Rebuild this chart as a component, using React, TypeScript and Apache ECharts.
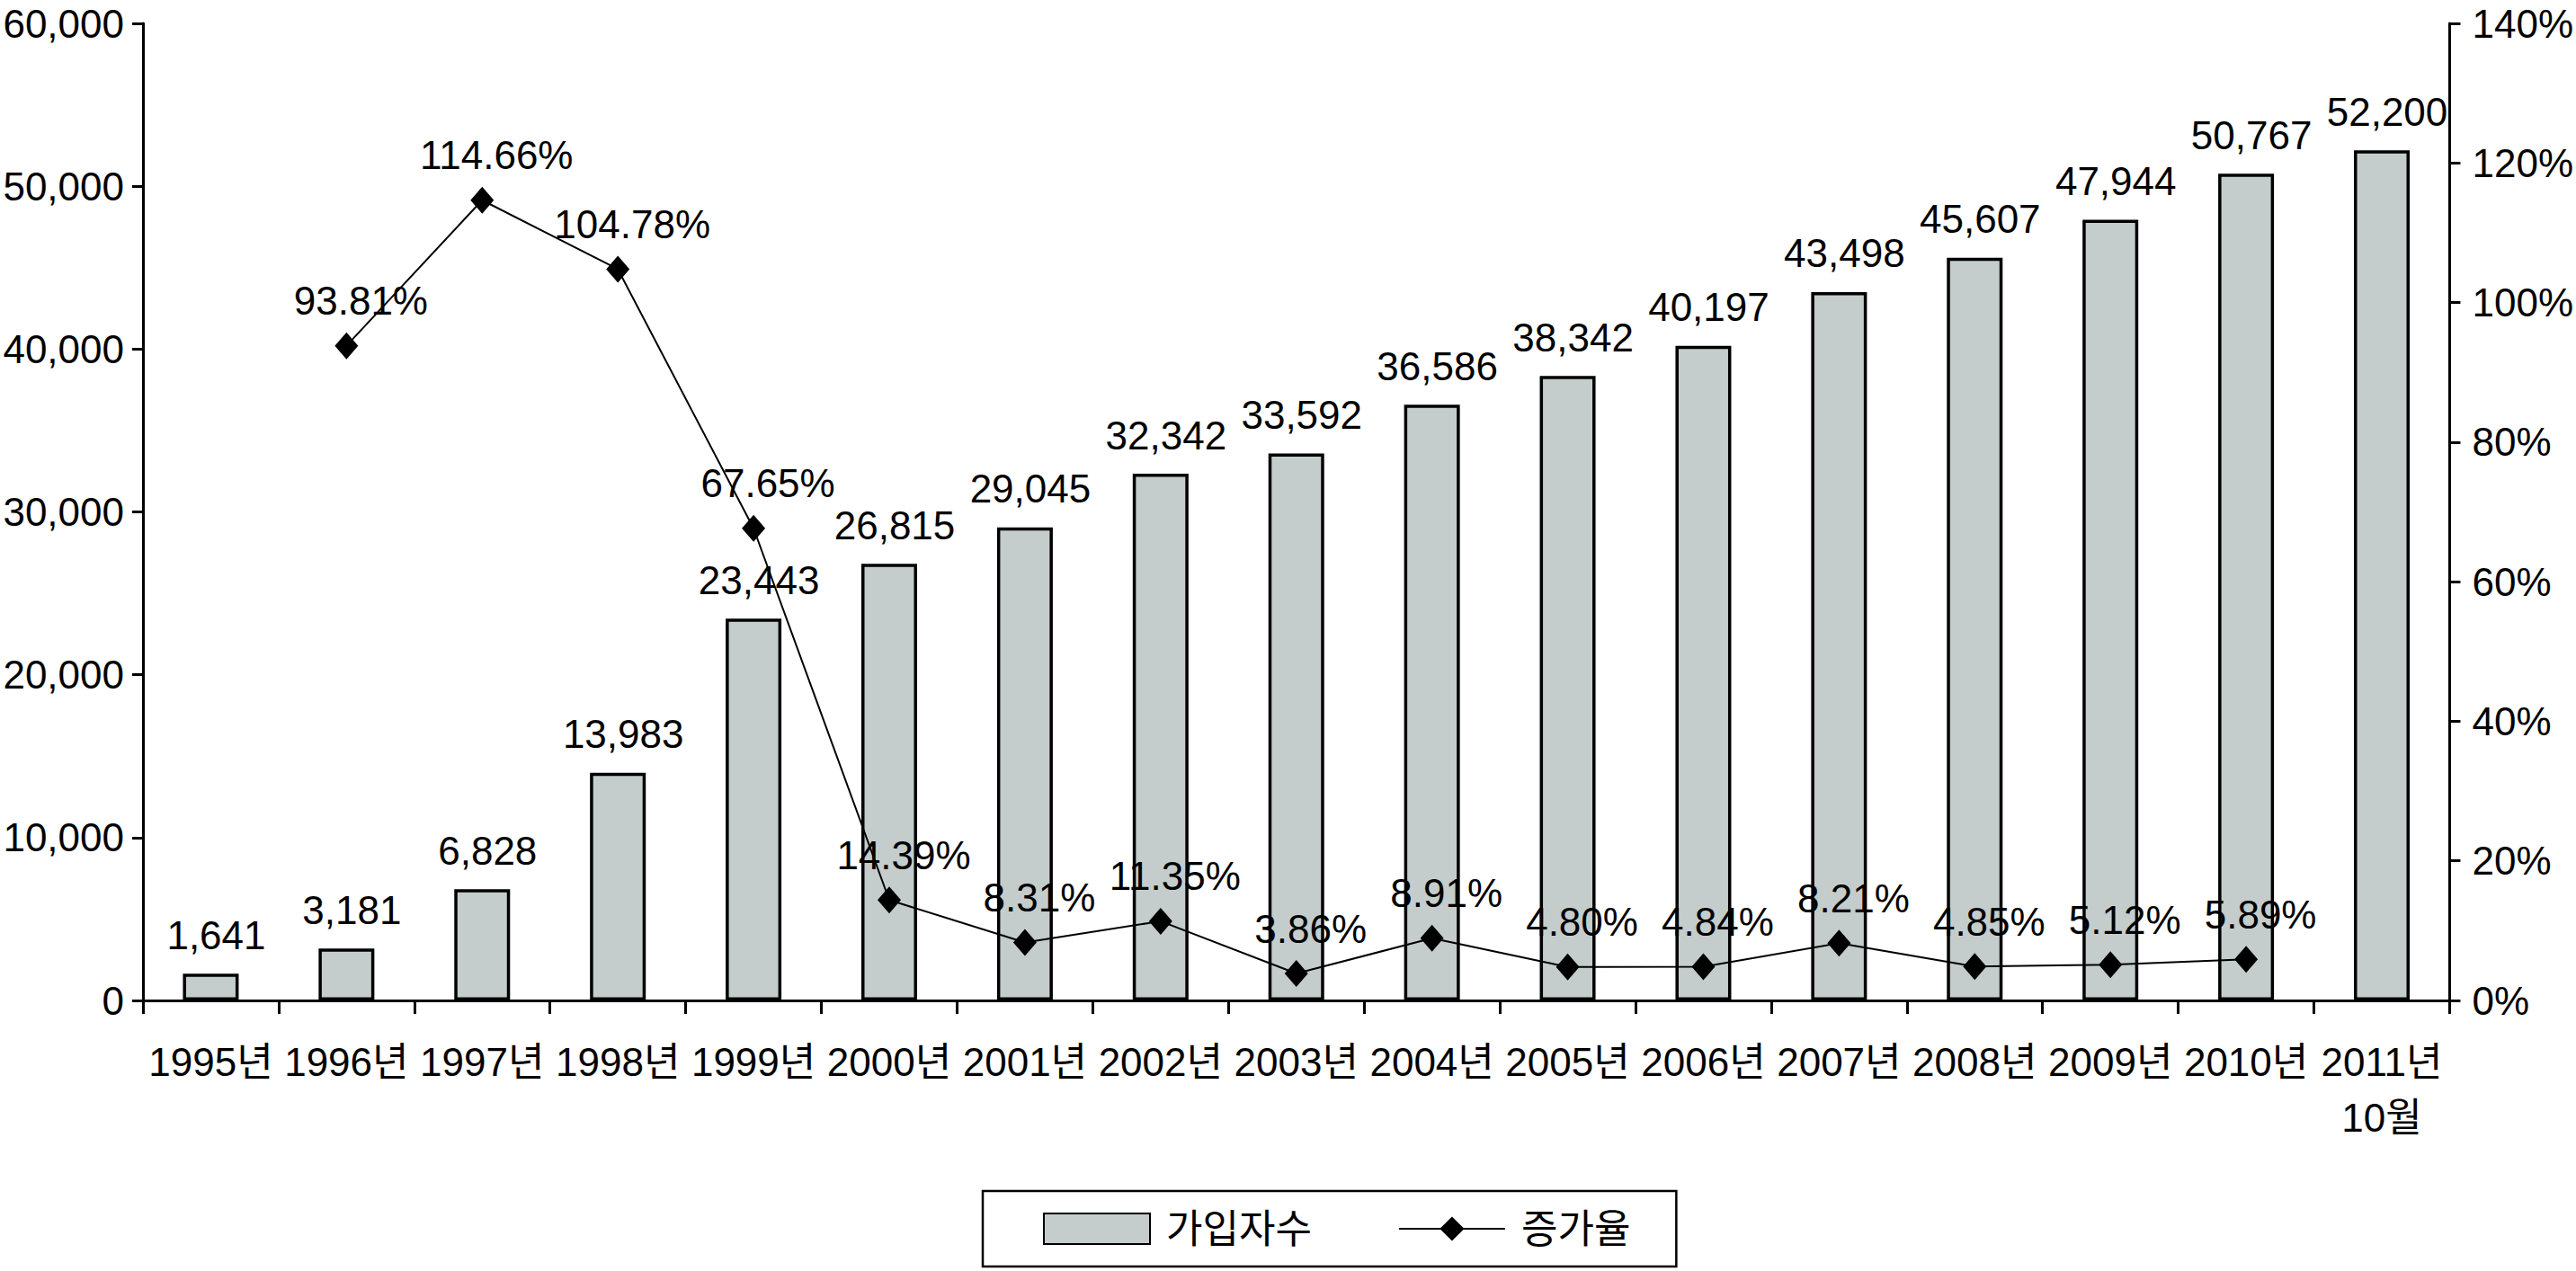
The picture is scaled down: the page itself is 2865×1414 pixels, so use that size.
import React, { useEffect, useRef } from "react";
import * as echarts from "echarts";

const categories = [
  "1995년", "1996년", "1997년", "1998년", "1999년", "2000년", "2001년", "2002년",
  "2003년", "2004년", "2005년", "2006년", "2007년", "2008년", "2009년", "2010년", "2011년\n10월",
];
const subscribers = [
  1641, 3181, 6828, 13983, 23443, 26815, 29045, 32342, 33592, 36586, 38342, 40197,
  43498, 45607, 47944, 50767, 52200,
];
const growthRate: (number | null)[] = [
  null, 93.81, 114.66, 104.78, 67.65, 14.39, 8.31, 11.35, 3.86, 8.91, 4.8, 4.84,
  8.21, 4.85, 5.12, 5.89, null,
];
const leftTicks = { min: 0, max: 60000, interval: 10000 };
const rightTicks = { min: 0, max: 140, interval: 20 };

const FONT = "'Liberation Sans', Arial, 'Noto Sans CJK KR', sans-serif";
const FS = 44;

export default function App() {
  const ref = useRef<HTMLDivElement>(null);
  useEffect(() => {
    if (!ref.current) return;
    const chart = echarts.init(ref.current, undefined, { renderer: "svg" });
    const textBase = { fontFamily: FONT, fontSize: FS, color: "#000" };
    chart.setOption({
      animation: false,
      backgroundColor: "#fff",
      textStyle: { fontFamily: FONT },
      grid: { left: 159, right: 132, top: 26, bottom: 301, containLabel: false },
      legend: {
        left: 1093,
        top: 1325,
        orient: "horizontal",
        padding: [20, 51, 20, 67],
        itemGap: 96,
        itemWidth: 118,
        itemHeight: 34,
        borderColor: "#000",
        borderWidth: 2.5,
        textStyle: { ...textBase, padding: [0, 0, 0, 13] },
        data: [{ name: "가입자수", icon: "rect" }, { name: "증가율" }],
      },
      xAxis: {
        type: "category",
        data: categories,
        boundaryGap: true,
        axisLine: { lineStyle: { color: "#000", width: 3 } },
        axisTick: { show: true, length: 15, lineStyle: { color: "#000", width: 3 } },
        axisLabel: { ...textBase, margin: 37, lineHeight: 62, interval: 0 },
      },
      yAxis: [
        {
          type: "value",
          min: leftTicks.min,
          max: leftTicks.max,
          interval: leftTicks.interval,
          splitLine: { show: false },
          axisLine: { show: true, lineStyle: { color: "#000", width: 3 } },
          axisTick: { show: true, length: 12, lineStyle: { color: "#000", width: 3 } },
          axisLabel: {
            ...textBase,
            lineHeight: 40,
            margin: 21,
            formatter: (v: number) => v.toLocaleString("en-US"),
          },
        },
        {
          type: "value",
          position: "right",
          min: rightTicks.min,
          max: rightTicks.max,
          interval: rightTicks.interval,
          splitLine: { show: false },
          axisLine: { show: true, lineStyle: { color: "#000", width: 3 } },
          axisTick: { show: true, length: 12, lineStyle: { color: "#000", width: 3 } },
          axisLabel: { ...textBase, lineHeight: 40, margin: 25, formatter: "{value}%" },
        },
      ],
      series: [
        {
          name: "가입자수",
          type: "bar",
          yAxisIndex: 0,
          data: subscribers,
          barWidth: 62,
          itemStyle: { color: "#c4cdcc", borderColor: "#000", borderWidth: 3.5 },
          label: {
            show: true,
            position: "top",
            distance: 21,
            offset: [6, 0],
            ...textBase,
            formatter: (p: any) => Number(p.value).toLocaleString("en-US"),
          },
          z: 2,
        },
        {
          name: "증가율",
          type: "line",
          yAxisIndex: 1,
          data: growthRate.map((v) => (v === null ? "-" : v)),
          symbol: "diamond",
          symbolSize: [26, 30],
          lineStyle: { color: "#000", width: 2 },
          itemStyle: { color: "#000" },
          label: {
            show: true,
            position: "top",
            distance: 13,
            offset: [16, 0],
            ...textBase,
            formatter: (p: any) => Number(p.value).toFixed(2) + "%",
          },
          z: 5,
        },
      ],
    });
    return () => chart.dispose();
  }, []);
  return (
    <div
      ref={ref}
      style={{ position: "absolute", left: 0, top: 0, width: 2865, height: 1414 }}
    />
  );
}
